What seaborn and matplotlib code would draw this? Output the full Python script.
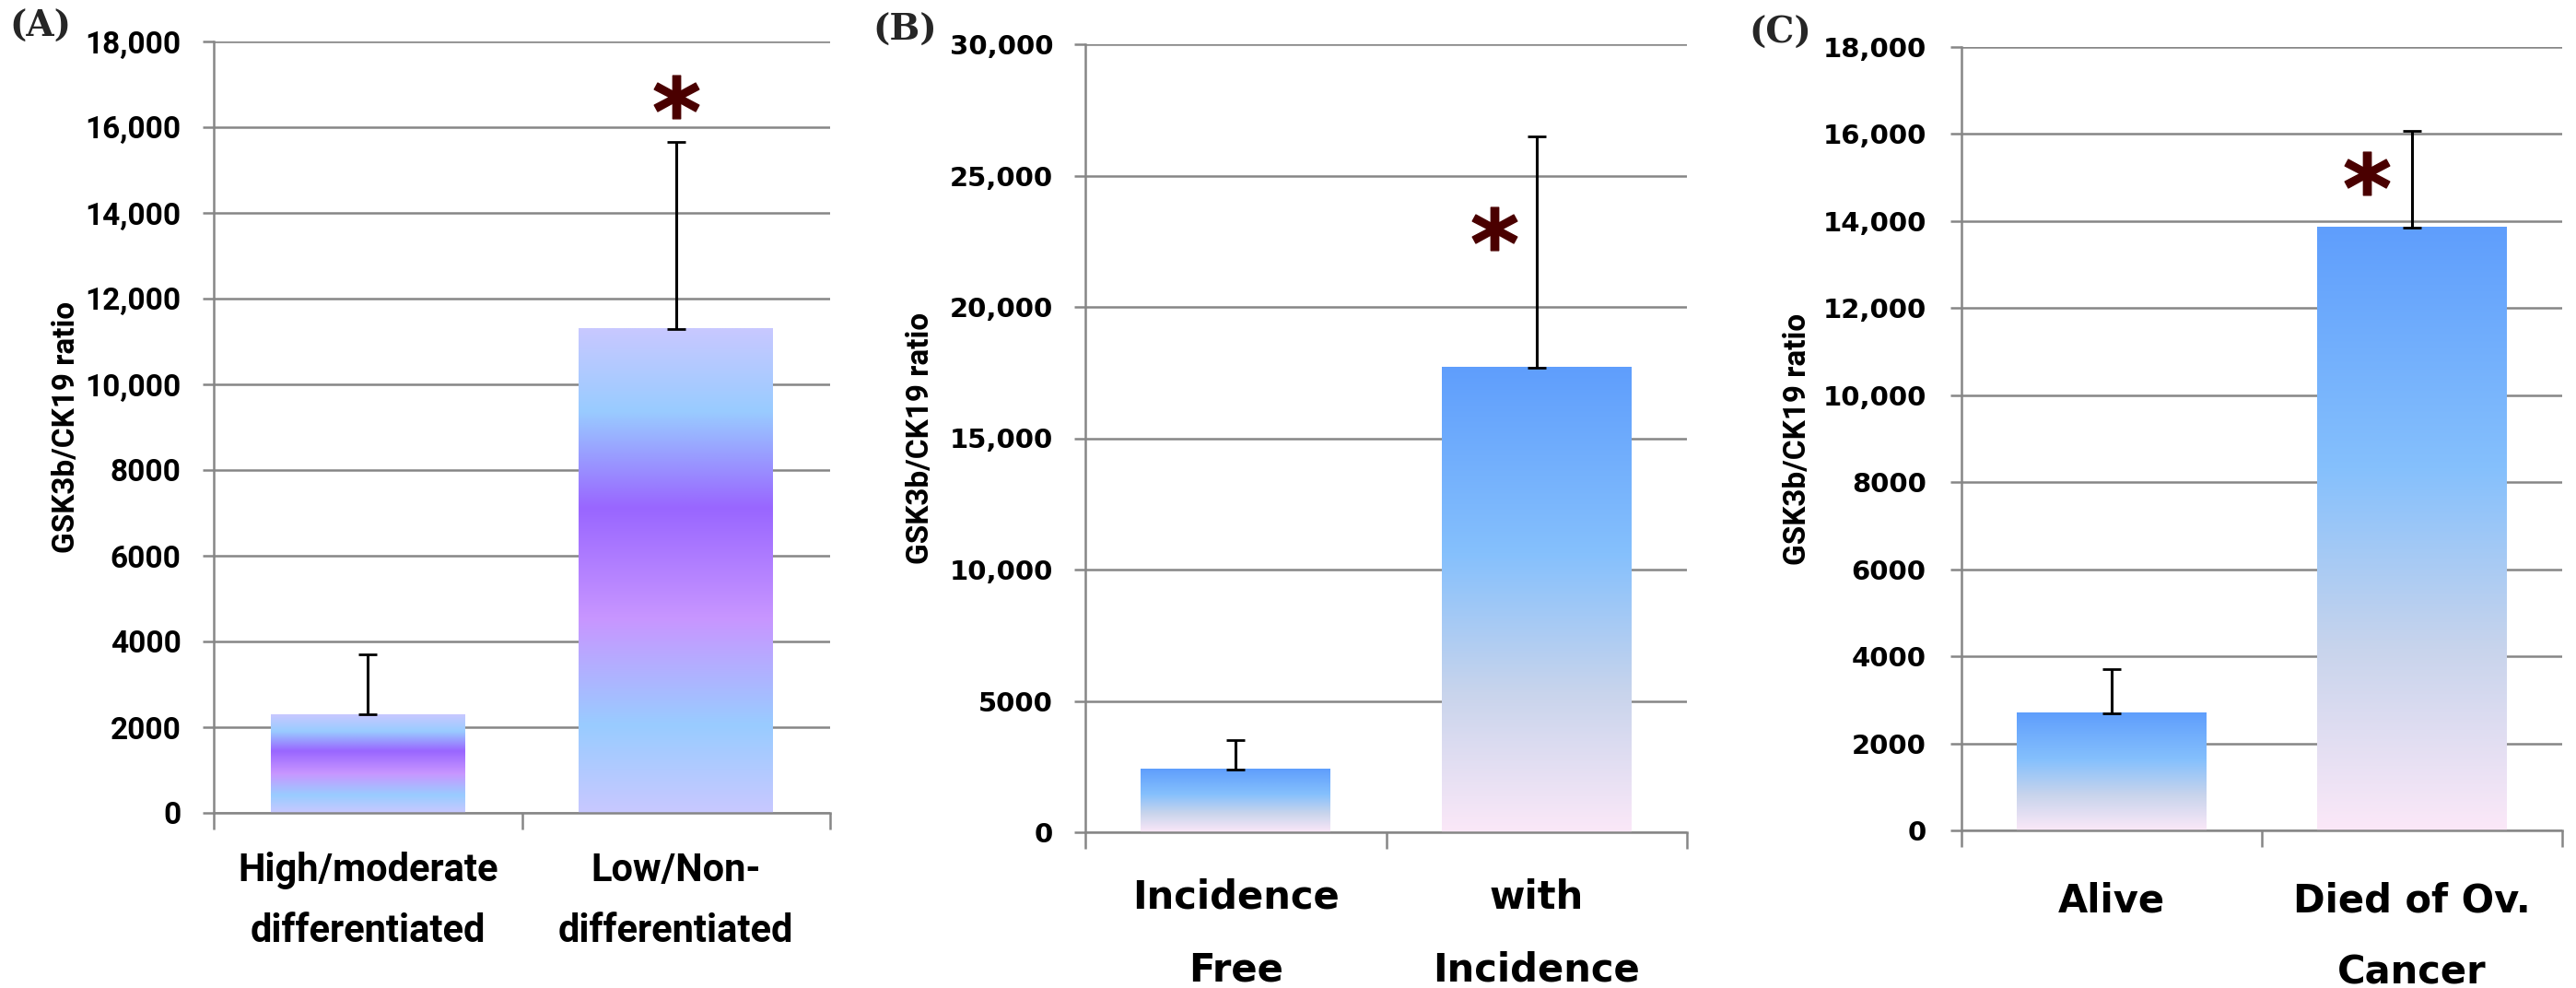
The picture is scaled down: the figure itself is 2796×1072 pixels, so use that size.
import numpy as np
import matplotlib
matplotlib.use("Agg")
import matplotlib.pyplot as plt
import seaborn as sns
from matplotlib.colors import LinearSegmentedColormap
from matplotlib.ticker import FuncFormatter

# (A) tumour differentiation
a_groups = ["High/moderate\ndifferentiated", "Low/Non-\ndifferentiated"]
a_means = [2300, 11300]
a_err = [1400, 4350]

# (B) incidence
b_groups = ["Incidence\nFree", "with\nIncidence"]
b_means = [2400, 17700]
b_err = [1100, 8800]

# (C) survival
c_groups = ["Alive", "Died of Ov.\nCancer"]
c_means = [2700, 13850]
c_err = [1000, 2230]

sns.set_theme(style="white")
plt.rcParams["font.family"] = ["DejaVu Sans"]

W, H = 2796, 1072
fig = plt.figure(figsize=(W / 100, H / 100), dpi=100)

grid_col = "#868686"
star_col = "#4a0000"
narrow = "Roboto"

purple_cmap = LinearSegmentedColormap.from_list(
    "purple", [(0, "#c8c8ff"), (0.18, "#99ccff"), (0.40, "#c896ff"),
               (0.63, "#9966ff"), (0.83, "#99ccff"), (1.0, "#c8c8ff")])
blue_cmap = LinearSegmentedColormap.from_list(
    "blue", [(0, "#fbe8f8"), (0.3, "#c8d4ec"), (0.6, "#85c0fd"), (1.0, "#5f9efc")])


def fmt(v, pos):
    if v >= 10000:
        return f"{v:,.0f}"
    return f"{v:.0f}"


def panel(rect, groups, means, errs, ymax, ystep, cmap, tick_font, tick_size, tick_pad,
          xlab_font, xlab_pad, linesp, star_dx, star_y, ylab_x):
    ax = fig.add_axes(rect)
    sns.barplot(x=groups, y=means, ax=ax, width=0.63, color="white", errorbar=None)

    # gradient fill for every bar
    grad = np.linspace(0, 1, 256).reshape(-1, 1)
    centers = []
    for p in ax.patches:
        x0, w, h = p.get_x(), p.get_width(), p.get_height()
        ax.imshow(grad, cmap=cmap, origin="lower", aspect="auto",
                  extent=[x0, x0 + w, 0, h], zorder=2)
        p.set_visible(False)
        centers.append(x0 + w / 2)

    ax.errorbar(centers, means, yerr=[np.zeros(len(errs)), errs], fmt="none",
                ecolor="black", elinewidth=2.2, capsize=7.5, capthick=2, zorder=3)
    ax.plot(centers[1] + star_dx, star_y, marker=r"$\mathbf{*}$", markersize=35,
            color=star_col, zorder=4)

    ax.set_xlim(-0.5, 1.5)
    ax.set_ylim(0, ymax)
    ax.set_yticks(np.arange(0, ymax + 1, ystep))
    ax.yaxis.set_major_formatter(FuncFormatter(fmt))
    ax.set_axisbelow(True)
    ax.yaxis.grid(True, color=grid_col, lw=1.8)
    ax.xaxis.grid(False)

    for s in ["top", "right"]:
        ax.spines[s].set_visible(False)
    for s in ["left", "bottom"]:
        ax.spines[s].set_color(grid_col)
        ax.spines[s].set_linewidth(1.8)

    ax.set_xticks([-0.5, 0.5, 1.5])
    ax.set_xticklabels([])
    ax.set_xticks([0, 1], minor=True)
    ax.set_xticklabels(groups, minor=True, fontfamily=xlab_font, fontweight="bold",
                       fontsize=30, linespacing=linesp, color="black")
    ax.tick_params(axis="x", which="major", length=13, width=1.8, color=grid_col,
                   direction="out", bottom=True)
    ax.tick_params(axis="x", which="minor", length=0, pad=xlab_pad, bottom=True)
    ax.tick_params(axis="y", length=8.6, width=1.8, color=grid_col, direction="out",
                   left=True, pad=tick_pad, labelsize=tick_size, labelcolor="black")
    plt.setp(ax.get_yticklabels(), fontfamily=tick_font, fontweight="bold")

    ax.set_xlabel("")
    ax.set_ylabel("GSK3b/CK19 ratio", fontfamily=narrow, fontweight="bold",
                  fontsize=24, color="black")
    ax.yaxis.set_label_coords(ylab_x, 0.5)
    return ax


panel([232 / W, 1 - 882 / H, 669 / W, 837 / H], a_groups, a_means, a_err,
      18000, 2000, purple_cmap, narrow, 24, 17, narrow, 30, 1.8, 0.0, 16700, -0.215)
panel([1178 / W, 1 - 903 / H, 653 / W, 855 / H], b_groups, b_means, b_err,
      30000, 5000, blue_cmap, "DejaVu Sans", 21, 16.5, "DejaVu Sans", 36, 2.1, -0.14, 23000, -0.25)
panel([2129 / W, 1 - 901 / H, 652 / W, 850 / H], c_groups, c_means, c_err,
      18000, 2000, blue_cmap, "DejaVu Sans", 21, 19, "DejaVu Sans", 40, 2.1, -0.15, 15100, -0.248)

for letter, lx, ly in [("(A)", 10, 10), ("(B)", 947, 14), ("(C)", 1898, 17)]:
    fig.text(lx / W, 1 - ly / H, letter, family="DejaVu Serif", weight="bold",
             size=28, va="top", ha="left")

fig.savefig("out.png", dpi=100)
